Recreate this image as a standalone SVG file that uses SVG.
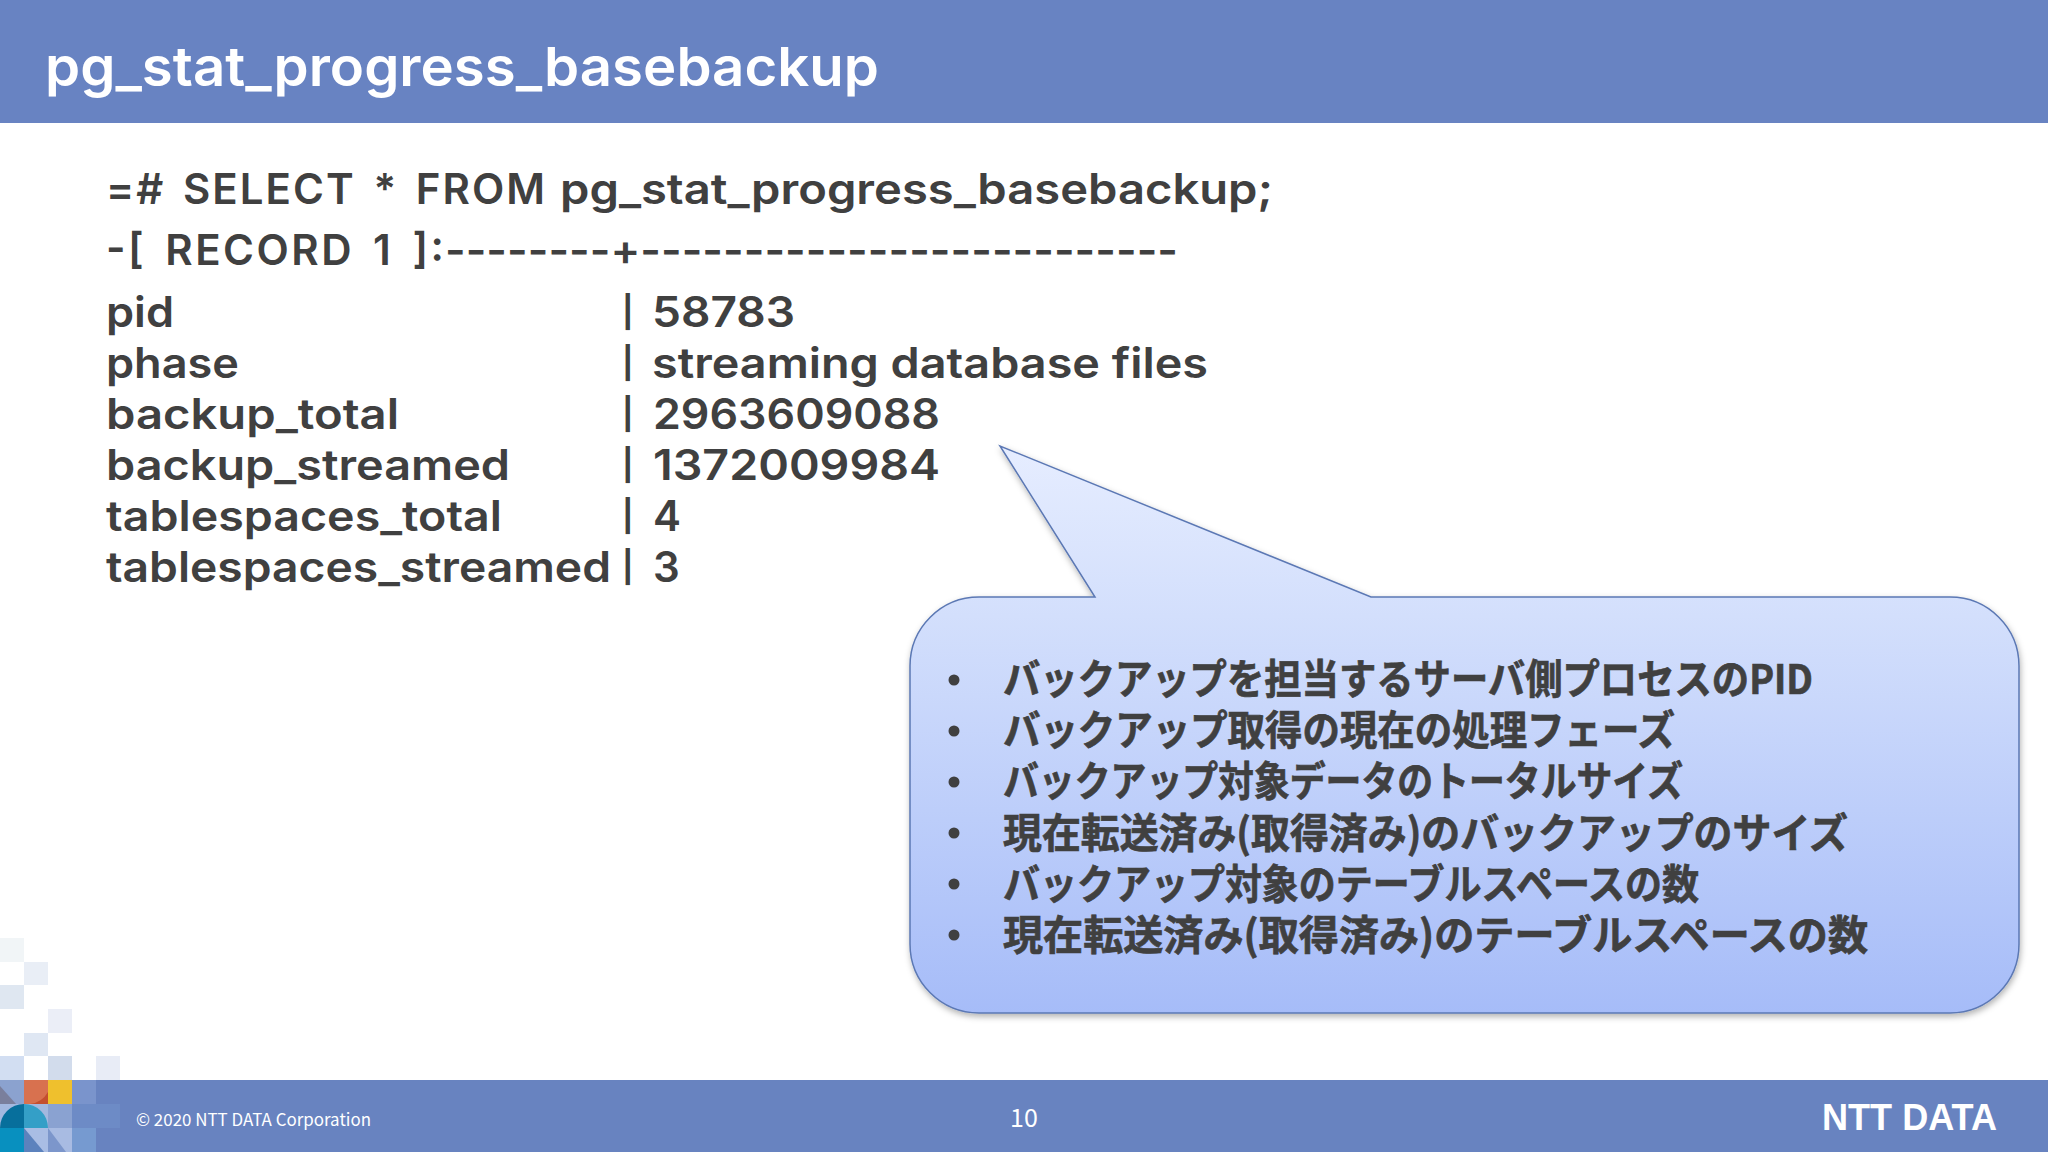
<svg xmlns="http://www.w3.org/2000/svg" width="2048" height="1152" viewBox="0 0 2048 1152">
<defs>
<linearGradient id="cg" x1="0" y1="0" x2="0" y2="1"><stop offset="0" stop-color="#e6edff"/><stop offset="0.3" stop-color="#d3dffc"/><stop offset="1" stop-color="#a6bcf8"/></linearGradient>
<filter id="sh" x="-5%" y="-5%" width="110%" height="110%"><feDropShadow dx="1" dy="3" stdDeviation="3" flood-color="#000" flood-opacity="0.3"/></filter>
</defs>
<style>
.m{font-family:"Inter","Noto Sans",sans-serif;font-weight:600;font-size:42px;fill:#404040}
.p{font-family:"Inter","Noto Sans",sans-serif;font-weight:700;font-size:31px;fill:#404040}
.j{font-family:"Noto Sans CJK JP",sans-serif;font-weight:700;font-size:41px;fill:#404040;stroke:#404040;stroke-width:0.7}
.f{font-family:"Noto Sans CJK JP",sans-serif;fill:#fff}
</style>
<rect width="2048" height="1152" fill="#fff"/>
<rect width="2048" height="123" fill="#6883c2"/>
<text x="45" y="86" font-family="Inter,sans-serif" font-weight="600" font-size="54" fill="#fff" textLength="834" lengthAdjust="spacingAndGlyphs">pg_stat_progress_basebackup</text>
<g id="sql">
<text class="m" x="106" y="204" textLength="439" lengthAdjust="spacing" word-spacing="5">=# SELECT * FROM</text>
<text class="m" x="560" y="204" textLength="713" lengthAdjust="spacingAndGlyphs">pg_stat_progress_basebackup;</text>
<text class="m" x="106" y="265" textLength="338" lengthAdjust="spacing" word-spacing="6">-[ RECORD 1 ]:</text>
<text class="m" x="445" y="265" textLength="733" lengthAdjust="spacingAndGlyphs">--------+--------------------------</text>
<text class="m" x="106" y="327" textLength="68" lengthAdjust="spacingAndGlyphs">pid</text><text class="p" x="622" y="323">|</text><text class="m" x="652" y="327" textLength="143" lengthAdjust="spacingAndGlyphs">58783</text>
<text class="m" x="106" y="378" textLength="133" lengthAdjust="spacingAndGlyphs">phase</text><text class="p" x="622" y="374">|</text><text class="m" x="652" y="378" textLength="556" lengthAdjust="spacingAndGlyphs">streaming database files</text>
<text class="m" x="106" y="429" textLength="293" lengthAdjust="spacingAndGlyphs">backup_total</text><text class="p" x="622" y="425">|</text><text class="m" x="653" y="429" textLength="287" lengthAdjust="spacingAndGlyphs">2963609088</text>
<text class="m" x="106" y="480" textLength="404" lengthAdjust="spacingAndGlyphs">backup_streamed</text><text class="p" x="622" y="476">|</text><text class="m" x="653" y="480" textLength="287" lengthAdjust="spacingAndGlyphs">1372009984</text>
<text class="m" x="106" y="531" textLength="396" lengthAdjust="spacingAndGlyphs">tablespaces_total</text><text class="p" x="622" y="527">|</text><text class="m" x="653" y="531">4</text>
<text class="m" x="106" y="582" textLength="505" lengthAdjust="spacingAndGlyphs">tablespaces_streamed</text><text class="p" x="622" y="578">|</text><text class="m" x="653" y="582">3</text>
</g>
<g id="callout">
<path d="M979 597H1095L1000 446L1371 597H1950A69 69 0 0 1 2019 666V944A69 69 0 0 1 1950 1013H979A69 69 0 0 1 910 944V666A69 69 0 0 1 979 597Z" fill="url(#cg)" stroke="#5b78b4" stroke-width="1.5" filter="url(#sh)"/>
<g fill="#404040"><circle cx="954" cy="680" r="5.5"/><circle cx="954" cy="731" r="5.5"/><circle cx="954" cy="782" r="5.5"/><circle cx="954" cy="833" r="5.5"/><circle cx="954" cy="884" r="5.5"/><circle cx="954" cy="935" r="5.5"/></g>
<text class="j" x="1003" y="694" textLength="810" lengthAdjust="spacingAndGlyphs">バックアップを担当するサーバ側プロセスのPID</text>
<text class="j" x="1003" y="745" textLength="672" lengthAdjust="spacingAndGlyphs">バックアップ取得の現在の処理フェーズ</text>
<text class="j" x="1003" y="796" textLength="680" lengthAdjust="spacingAndGlyphs">バックアップ対象データのトータルサイズ</text>
<text class="j" x="1003" y="848" textLength="845" lengthAdjust="spacingAndGlyphs">現在転送済み(取得済み)のバックアップのサイズ</text>
<text class="j" x="1003" y="899" textLength="696" lengthAdjust="spacingAndGlyphs">バックアップ対象のテーブルスペースの数</text>
<text class="j" x="1003" y="950" textLength="865" lengthAdjust="spacingAndGlyphs">現在転送済み(取得済み)のテーブルスペースの数</text>
</g>
<g id="mosaic-top">
<rect x="0" y="938" width="24" height="24" fill="#f1f5f7"/>
<rect x="24" y="962" width="24" height="23" fill="#e9eef6"/>
<rect x="0" y="985" width="24" height="24" fill="#dfe7f1"/>
<rect x="48" y="1009" width="24" height="24" fill="#ebeef7"/>
<rect x="24" y="1033" width="24" height="23" fill="#dfe7f3"/>
<rect x="0" y="1056" width="24" height="24" fill="#d2def2"/>
<rect x="48" y="1056" width="24" height="24" fill="#d2dcec"/>
<rect x="96" y="1056" width="24" height="24" fill="#e8ecf6"/>
</g>
<rect y="1080" width="2048" height="72" fill="#6883c0"/>
<g id="mosaic-bottom">
<rect x="0" y="1080" width="24" height="24" fill="#8ba2cf"/>
<path d="M0 1086L16 1104H0Z" fill="#7a7f9c"/>
<rect x="24" y="1080" width="24" height="24" fill="#d8714f"/>
<path d="M48 1092A24 24 0 0 1 30 1104H48Z" fill="#c44f2f"/>
<rect x="48" y="1080" width="24" height="24" fill="#efc02d"/>
<rect x="72" y="1080" width="24" height="24" fill="#7a94cc"/>
<rect x="0" y="1104" width="48" height="48" fill="#a3b8df"/>
<path d="M0 1128A24 24 0 0 1 24 1104V1128Z" fill="#076f9c"/>
<path d="M24 1104A24 24 0 0 1 48 1128H24Z" fill="#349fc7"/>
<rect x="48" y="1104" width="24" height="24" fill="#8aa2d1"/>
<rect x="72" y="1104" width="48" height="24" fill="#6d8bc6"/>
<rect x="0" y="1128" width="24" height="24" fill="#0890bf"/>
<path d="M24 1128H48V1152H44Z" fill="#a9bde4"/>
<path d="M24 1128L44 1152H24Z" fill="#5c82bd"/>
<rect x="48" y="1128" width="24" height="24" fill="#a8bbe2"/>
<path d="M48 1128L66 1152H48Z" fill="#7c96cb"/>
<rect x="72" y="1128" width="24" height="24" fill="#769ad0"/>
</g>
<text class="f" x="136" y="1126" font-size="17" textLength="235" lengthAdjust="spacingAndGlyphs">© 2020 NTT DATA Corporation</text>
<text class="f" x="1024" y="1127" font-size="25" text-anchor="middle">10</text>
<text x="1822" y="1130" font-family="Liberation Sans,sans-serif" font-weight="700" font-size="36" fill="#fff" textLength="175" lengthAdjust="spacingAndGlyphs">NTT DATA</text>
</svg>
